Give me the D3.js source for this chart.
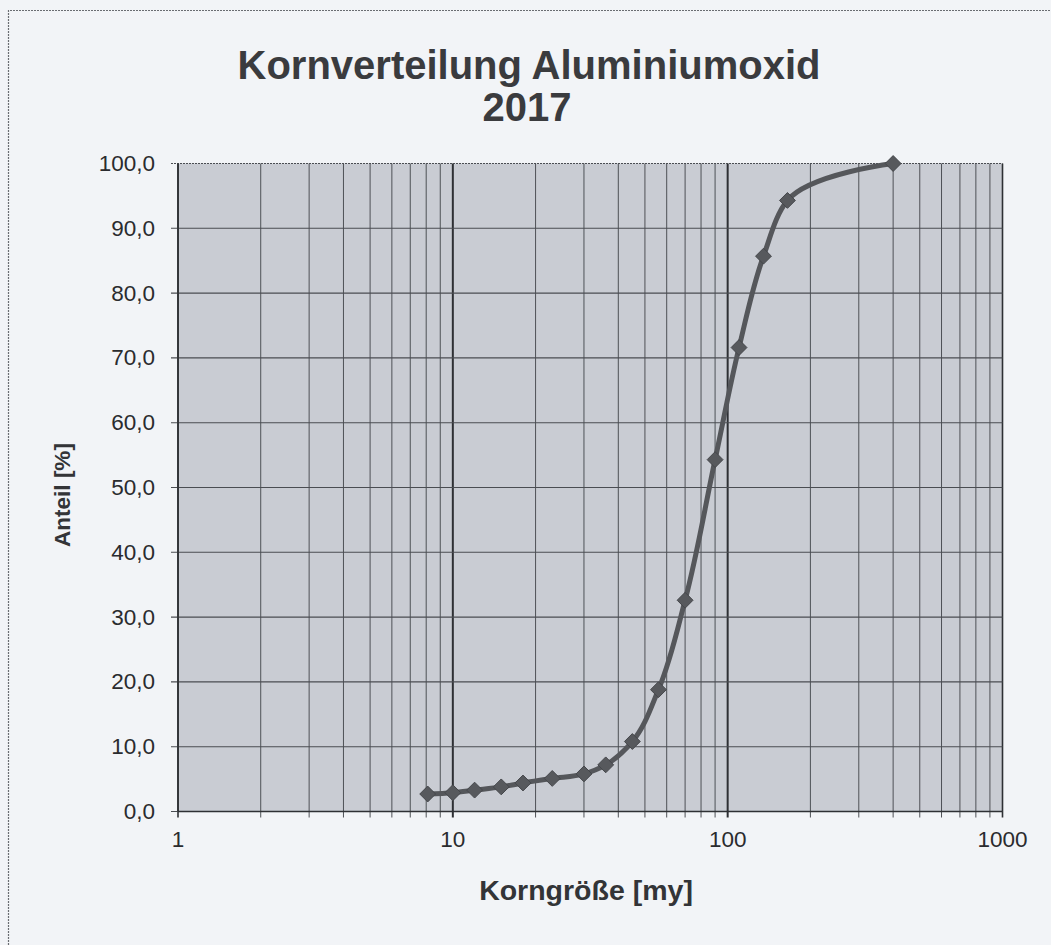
<!DOCTYPE html>
<html>
<head>
<meta charset="utf-8">
<script src="https://cdn.jsdelivr.net/npm/d3@7"></script>
<style>
  html, body { margin: 0; padding: 0; background: #f2f4f7; }
  svg { display: block; }
</style>
</head>
<body>
<svg id="chart" width="1051" height="945"></svg>
<script>
const titleLines = ["Kornverteilung Aluminiumoxid", "2017"];
const xLabel = "Korngröße [my]";
const yLabel = "Anteil [%]";
const grainSize = [8.1, 10, 12, 15, 18, 23, 30, 36, 45, 56, 70, 90, 110, 135, 165, 400];
const share = [2.7, 2.9, 3.3, 3.8, 4.4, 5.1, 5.8, 7.2, 10.8, 18.8, 32.6, 54.3, 71.6, 85.7, 94.3, 100.0];
const xTickValues = [1, 10, 100, 1000];
const yTickValues = [0, 10, 20, 30, 40, 50, 60, 70, 80, 90, 100];

const svg = d3.select("#chart");
const W = 1051, H = 945;
const m = { left: 178, top: 163.5, right: 1002.5, bottom: 811.5 };

// frame of the chart area (partly cut off in reference)
svg.append("path")
  .attr("d", `M8.5,${H} L8.5,10.5 L${W},10.5`)
  .attr("fill", "none").attr("stroke", "#6a6d72").attr("stroke-width", 1.2)
  .attr("stroke-dasharray", "2,1");

const x = d3.scaleLog().domain([1, 1000]).range([m.left, m.right]);
const y = d3.scaleLinear().domain([0, 100]).range([m.bottom, m.top]);

// plot background
svg.append("rect")
  .attr("x", m.left).attr("y", m.top)
  .attr("width", m.right - m.left).attr("height", m.bottom - m.top)
  .attr("fill", "#c9ccd3");

// vertical gridlines (log minor + decades)
const minor = [];
for (let d = 1; d < 1000; d *= 10) for (let k = 2; k <= 9; k++) minor.push(d * k);
svg.append("g").selectAll("line").data(minor).join("line")
  .attr("x1", d => x(d)).attr("x2", d => x(d))
  .attr("y1", m.top).attr("y2", m.bottom + 6)
  .attr("stroke", "#4e5156").attr("stroke-width", 1);
svg.append("g").selectAll("line").data(xTickValues).join("line")
  .attr("x1", d => x(d)).attr("x2", d => x(d))
  .attr("y1", m.top).attr("y2", m.bottom + 6)
  .attr("stroke", "#2e3034").attr("stroke-width", d => (d === 10 || d === 100) ? 2 : 1.6);

// horizontal gridlines
svg.append("g").selectAll("line").data(yTickValues).join("line")
  .attr("x1", m.left - 7).attr("x2", m.right)
  .attr("y1", d => y(d)).attr("y2", d => y(d))
  .attr("stroke", "#4a4d52").attr("stroke-width", 1.1)
  .attr("stroke-dasharray", d => (d === 100 ? "2,1" : null));

// axes lines
svg.append("line").attr("x1", m.left).attr("x2", m.left).attr("y1", m.top).attr("y2", m.bottom)
  .attr("stroke", "#2e3034").attr("stroke-width", 1.6);
svg.append("line").attr("x1", m.left).attr("x2", m.right).attr("y1", m.bottom).attr("y2", m.bottom)
  .attr("stroke", "#2e3034").attr("stroke-width", 1.6);

// tick labels
const font = "Liberation Sans, Arial, Helvetica, sans-serif";
svg.append("g").selectAll("text").data(yTickValues).join("text")
  .attr("x", 155).attr("y", d => y(d) + 7.5)
  .attr("text-anchor", "end").attr("font-family", font).attr("font-size", 22.5)
  .attr("fill", "#2a2b2e")
  .text(d => d3.format(".1f")(d).replace(".", ","));
svg.append("g").selectAll("text").data(xTickValues).join("text")
  .attr("x", d => x(d)).attr("y", 847)
  .attr("text-anchor", "middle").attr("font-family", font).attr("font-size", 22.5)
  .attr("fill", "#2a2b2e")
  .text(d => d);

// title
svg.append("text").attr("x", 529).attr("y", 79).attr("text-anchor", "middle")
  .attr("font-family", font).attr("font-weight", "bold").attr("font-size", 40)
  .attr("fill", "#3a3b3e").text(titleLines[0]);
svg.append("text").attr("x", 527).attr("y", 121).attr("text-anchor", "middle")
  .attr("font-family", font).attr("font-weight", "bold").attr("font-size", 40)
  .attr("fill", "#3a3b3e").text(titleLines[1]);

// axis titles
svg.append("text").attr("x", 586).attr("y", 900).attr("text-anchor", "middle")
  .attr("font-family", font).attr("font-weight", "bold").attr("font-size", 28.5)
  .attr("fill", "#333437").text(xLabel);
svg.append("text").attr("transform", "translate(70,495) rotate(-90)").attr("text-anchor", "middle")
  .attr("font-family", font).attr("font-weight", "bold").attr("font-size", 22.5)
  .attr("fill", "#333437").text(yLabel);

// data line
const pts = grainSize.map((g, i) => [g, share[i]]);
const line = d3.line().x(d => x(d[0])).y(d => y(d[1])).curve(d3.curveCatmullRom.alpha(1));
svg.append("path").datum(pts).attr("d", line)
  .attr("fill", "none").attr("stroke", "#55575b").attr("stroke-width", 5)
  .attr("stroke-linejoin", "round");

// diamond markers
const sym = d3.symbol().type(d3.symbolDiamond2).size(160);
svg.append("g").selectAll("path").data(pts).join("path")
  .attr("transform", d => `translate(${x(d[0])},${y(d[1])})`)
  .attr("d", sym)
  .attr("fill", "#57595d").attr("stroke", "#45474b").attr("stroke-width", 1);
</script>
</body>
</html>
